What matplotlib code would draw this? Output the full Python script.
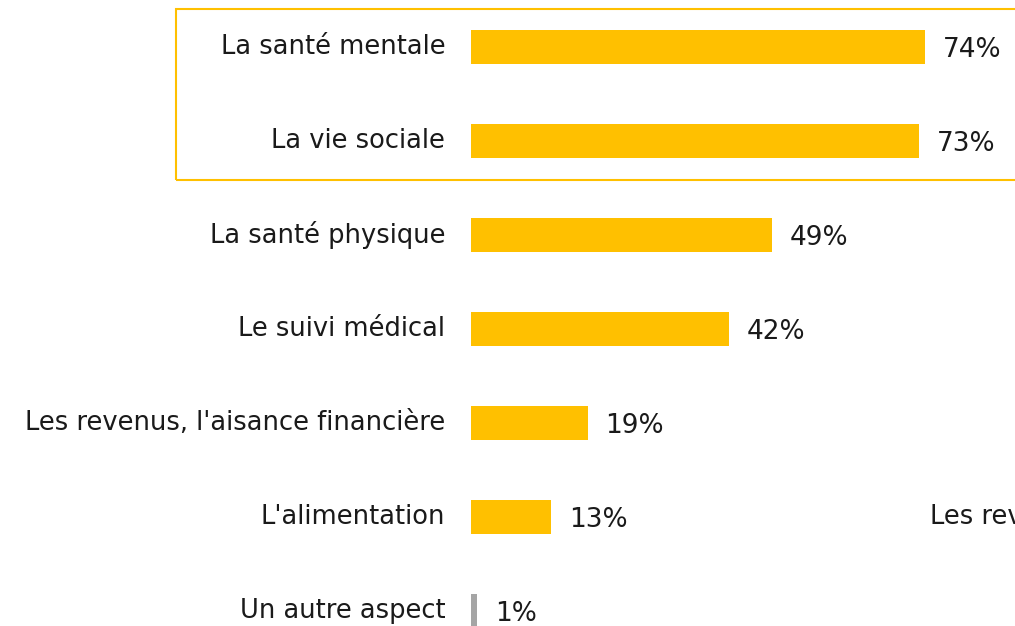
import matplotlib.pyplot as plt
from matplotlib.patches import Rectangle

# Data
categories = ['La santé mentale', 'La vie sociale', 'La santé physique',
              'Le suivi médical', "Les revenus, l'aisance financière",
              "L'alimentation", 'Un autre aspect']
values = [74, 73, 49, 42, 19, 13, 1]
colors = ['#FFC000'] * 6 + ['#A5A5A5']

plt.rcParams['font.family'] = 'DejaVu Sans'

fig = plt.figure(figsize=(10.15, 6.26), dpi=100)
ax = fig.add_axes([0, 0, 1, 1])

y = list(range(len(categories)))
ax.barh(y, values, height=0.36, color=colors)

# category labels on the left, value labels at the bar ends
for i, (cat, v) in enumerate(zip(categories, values)):
    ax.text(-4.2, i, cat, ha='right', va='center', fontsize=18.5, color='#1a1a1a')
    ax.annotate(f'{v}%', (v, i), xytext=(13, -2), textcoords='offset points',
                ha='left', va='center', fontsize=19, color='#1a1a1a')

# stray text cut by the right edge, as in the original slide
ax.text(74.8, 5, 'Les revenus', ha='left', va='center', fontsize=18.5, color='#1a1a1a')

ax.set_xlim(-76.77, 88.67)
ax.set_ylim(6.16, -0.5)
ax.axis('off')

# highlight box around the top two items
fig.add_artist(Rectangle((176 / 1015, 1 - 180 / 626), 0.9, 171 / 626,
                         transform=fig.transFigure, fill=False,
                         edgecolor='#FFC000', linewidth=1.5))

fig.savefig('out.png', dpi=100)
